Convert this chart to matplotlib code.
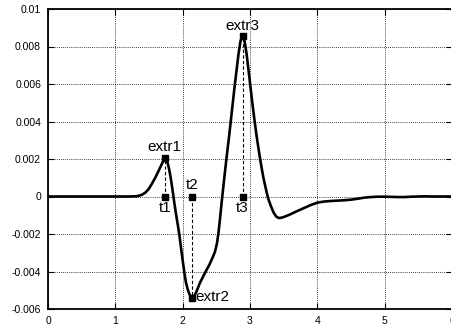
import matplotlib
matplotlib.use("Agg")
import matplotlib.pyplot as plt

# waveform samples (y in units of 1e-3)
x_vals = [0.0, 0.5, 1.0, 1.2, 1.3, 1.35, 1.4, 1.45, 1.5, 1.55, 1.6, 1.65, 1.7, 1.72, 1.736,
          1.76, 1.78, 1.80, 1.825, 1.85, 1.875, 1.90, 1.93, 1.955, 1.98, 2.0, 2.025, 2.05,
          2.075, 2.10, 2.125, 2.145, 2.17, 2.20, 2.23, 2.254, 2.30, 2.35, 2.40, 2.44, 2.48,
          2.51, 2.53, 2.555, 2.58, 2.61, 2.65, 2.69, 2.73, 2.77, 2.80, 2.83, 2.86, 2.89,
          2.92, 2.95, 2.99, 3.03, 3.07, 3.10, 3.14, 3.17, 3.20, 3.24, 3.27, 3.31, 3.35,
          3.39, 3.43, 3.47, 3.52, 3.6, 3.7, 3.8, 3.9, 4.0, 4.1, 4.2, 4.3, 4.4, 4.5, 4.6,
          4.7, 4.8, 4.9, 5.0, 5.1, 5.2, 5.3, 5.4, 5.5, 5.6, 5.7, 5.8, 6.0]
y_milli = [0.0, 0.0, 0.0, 0.0, 0.01, 0.04, 0.1, 0.22, 0.42, 0.72, 1.05, 1.42, 1.8, 1.96, 2.04,
           1.95, 1.75, 1.45, 0.95, 0.35, -0.3, -0.9, -1.55, -2.14, -2.85, -3.39, -4.05, -4.6,
           -4.95, -5.2, -5.35, -5.40, -5.32, -5.12, -4.85, -4.63, -4.3, -3.95, -3.62, -3.3, -2.95,
           -2.5, -2.0, -1.2, -0.3, 0.7, 2.0, 3.2, 4.5, 5.8, 6.7, 7.6, 8.3, 8.55,
           8.3, 7.6, 6.4, 5.15, 4.0, 3.2, 2.25, 1.6, 1.0, 0.35, -0.1, -0.5, -0.85,
           -1.07, -1.15, -1.13, -1.07, -0.95, -0.78, -0.62, -0.46, -0.33, -0.27, -0.24, -0.22, -0.2, -0.17, -0.12,
           -0.06, -0.03, -0.01, -0.01, -0.02, -0.03, -0.03, -0.01, 0.0, 0.01, 0.0, 0.0, 0.0]
y_vals = [v * 1e-3 for v in y_milli]

# marked points
extr_names = ["extr1", "extr2", "extr3"]
t_names = ["t1", "t2", "t3"]
t_x = [1.736, 2.145, 2.89]
extr_y = [0.00204, -0.0054, 0.00855]

x_ticks = [0, 1, 2, 3, 4, 5, 6]
x_ticklabels = ["0", "1", "2", "3", "4", "5", "6"]
y_ticks = [-0.006, -0.004, -0.002, 0, 0.002, 0.004, 0.006, 0.008, 0.01]
y_ticklabels = ["-0.006", "-0.004", "-0.002", "0", "0.002", "0.004", "0.006", "0.008", "0.01"]

plt.rcParams['font.family'] = ['Liberation Sans', 'DejaVu Sans']

fig = plt.figure(figsize=(4.51, 3.32), dpi=100)
ax = fig.add_axes([48/451, 1 - 309/332, (451 - 48)/451 + 0.002, 300/332])

ax.plot(x_vals, y_vals, color='black', lw=1.9, zorder=3, solid_joinstyle='round')

for i in range(3):
    ax.plot([t_x[i], t_x[i]], [0, extr_y[i]], color='black', lw=0.8, ls=(0, (3, 2)), zorder=2)
    ax.plot([t_x[i]], [extr_y[i]], 's', color='black', ms=4.5, zorder=4)
    ax.plot([t_x[i]], [0], 's', color='black', ms=4.5, zorder=4)

fs = 11
ax.text(t_x[0], extr_y[0] + 0.00025, extr_names[0], ha='center', va='bottom', fontsize=fs)
ax.text(t_x[1] + 0.04, extr_y[1] + 0.00005, extr_names[1], ha='left', va='center', fontsize=fs)
ax.text(t_x[2], extr_y[2] + 0.00015, extr_names[2], ha='center', va='bottom', fontsize=fs)
ax.text(t_x[0], -0.00025, t_names[0], ha='center', va='top', fontsize=fs)
ax.text(t_x[1], 0.00025, t_names[1], ha='center', va='bottom', fontsize=fs)
ax.text(t_x[2], -0.00025, t_names[2], ha='center', va='top', fontsize=fs)

ax.set_xlim(0, 6)
ax.set_ylim(-0.006, 0.01)
ax.set_xticks(x_ticks)
ax.set_xticklabels(x_ticklabels)
ax.set_yticks(y_ticks)
ax.set_yticklabels(y_ticklabels)
ax.tick_params(direction='in', length=4, width=0.8, top=True, right=True, labelsize=7.5, pad=5)
ax.grid(True, color='black', ls=(0, (1, 1.5)), lw=0.6)
for s in ax.spines.values():
    s.set_linewidth(1.3)

fig.savefig("out.png", dpi=100)
